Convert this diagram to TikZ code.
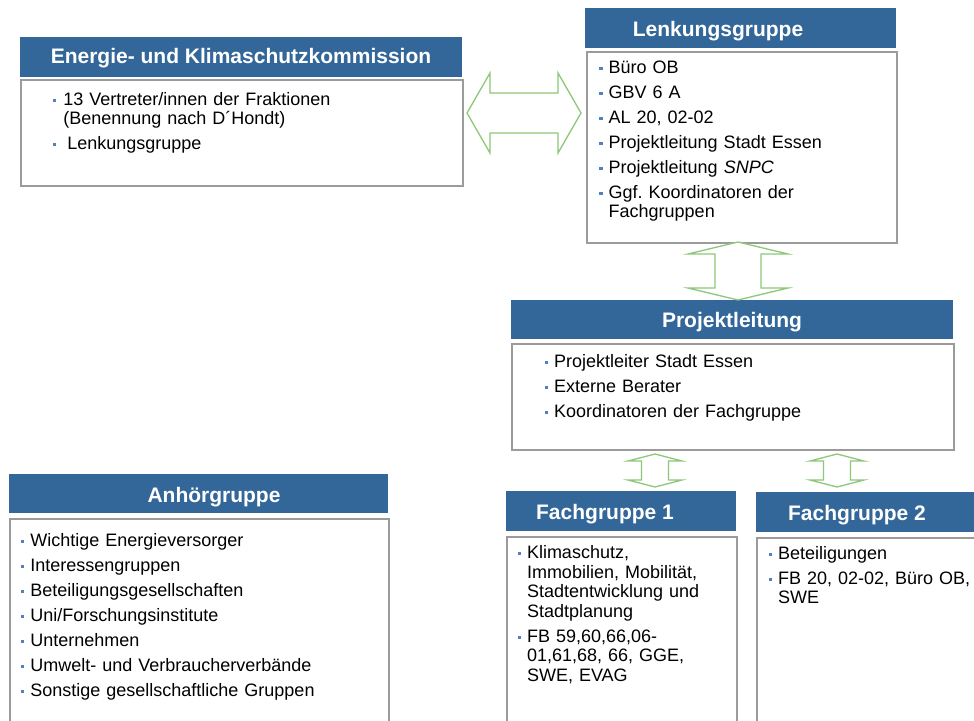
\documentclass[tikz,border=0pt]{standalone}
\usepackage{fontspec}
\setmainfont{Liberation Sans}
\usetikzlibrary{calc}
\frenchspacing
\definecolor{hdblue}{RGB}{52,103,153}
\definecolor{bulblue}{RGB}{79,129,189}
\definecolor{bordgrey}{RGB}{155,155,155}
\definecolor{arrgreen}{RGB}{140,200,120}
\newlength{\bw}
\setlength{\bw}{9.5pt}
\newcommand{\bsq}{\textcolor{bulblue}{\rule[3.3pt]{3.3pt}{3.3pt}}}
\newcommand{\itm}[1]{\par\noindent\hangindent=\bw\hangafter=1\makebox[\bw][l]{\bsq}\rule{0pt}{14pt}#1\par\vspace{5.5pt}}
\newcommand{\hdarrow}[5]{\draw[blockarr] ($(#1)+({-#2},0)$) -- ($(#1)+({-#2+#3},{-#4})$) -- ($(#1)+({-#2+#3},{-#5})$) -- ($(#1)+({#2-#3},{-#5})$) -- ($(#1)+({#2-#3},{-#4})$) -- ($(#1)+({#2},0)$) -- ($(#1)+({#2-#3},{#4})$) -- ($(#1)+({#2-#3},{#5})$) -- ($(#1)+({-#2+#3},{#5})$) -- ($(#1)+({-#2+#3},{#4})$) -- cycle;}
\newcommand{\vdarrow}[5]{\draw[blockarr] ($(#1)+(0,{-#2})$) -- ($(#1)+({-#4},{-#2+#3})$) -- ($(#1)+({-#5},{-#2+#3})$) -- ($(#1)+({-#5},{#2-#3})$) -- ($(#1)+({-#4},{#2-#3})$) -- ($(#1)+(0,{#2})$) -- ($(#1)+({#4},{#2-#3})$) -- ($(#1)+({#5},{#2-#3})$) -- ($(#1)+({#5},{-#2+#3})$) -- ($(#1)+({#4},{-#2+#3})$) -- cycle;}
\tikzset{
  hdr/.style={fill=hdblue, draw=none, anchor=north west, inner sep=0pt},
  bodybox/.style={draw=bordgrey, line width=1.5pt, fill=white, anchor=north west, inner sep=0pt},
  ttl/.style={text=white, font=\bfseries\fontsize{21}{25}\selectfont, anchor=base, inner sep=0pt},
  lst/.style={anchor=north west, inner sep=0pt, text width=#1, align=left, font=\fontsize{18}{19.5}\selectfont},
  blockarr/.style={draw=arrgreen, line width=1.3pt, fill=white, line join=miter},
}
\begin{document}
\begin{tikzpicture}[x=1pt,y=-1pt]
\useasboundingbox (0,0) rectangle (974,720);
\clip (0,0) rectangle (974,720);
\fill[white] (0,0) rectangle (974,720);

% Energie- und Klimaschutzkommission
\node[hdr, minimum width=442pt, minimum height=40pt] (ekhead) at (20,37) {};
\node[ttl] (ektitle) at (241,63) {Energie- und Klimaschutzkommission};
\node[bodybox, minimum width=442pt, minimum height=106pt] (ekbody) at (20,79) {};
\node[lst=400pt] (eklist) at (52.7,85.5) {\setlength{\bw}{10.5pt}%
\itm{13 Vertreter/innen der Fraktionen\newline (Benennung nach D´Hondt)}%
\itm{\hspace{4pt}Lenkungsgruppe}};

% Lenkungsgruppe
\node[hdr, minimum width=311pt, minimum height=40pt] (lghead) at (585,8) {};
\node[ttl] (lgtitle) at (718,36) {Lenkungsgruppe};
\node[bodybox, minimum width=310pt, minimum height=191pt] (lgbody) at (586,51) {};
\node[lst=290pt] (lglist) at (599,53.5) {%
\itm{Büro OB}%
\itm{GBV 6 A}%
\itm{AL 20, 02-02}%
\itm{Projektleitung Stadt Essen}%
\itm{Projektleitung \textit{SNPC}}%
\itm{Ggf. Koordinatoren der\newline Fachgruppen}};

% Projektleitung
\node[hdr, minimum width=442pt, minimum height=39pt] (plhead) at (511,300) {};
\node[ttl] (pltitle) at (732,327) {Projektleitung};
\node[bodybox, minimum width=442pt, minimum height=106pt] (plbody) at (511,343) {};
\node[lst=390pt] (pllist) at (544.3,348) {%
\itm{Projektleiter Stadt Essen}%
\itm{Externe Berater}%
\itm{Koordinatoren der Fachgruppe}};

% Anhoergruppe
\node[hdr, minimum width=379pt, minimum height=39pt] (ahhead) at (9,474) {};
\node[ttl] (ahtitle) at (214,502) {Anhörgruppe};
\node[bodybox, minimum width=379pt, minimum height=220pt] (ahbody) at (9,518) {};
\node[lst=360pt] (ahlist) at (20.7,526.5) {%
\itm{Wichtige Energieversorger}%
\itm{Interessengruppen}%
\itm{Beteiligungsgesellschaften}%
\itm{Uni/Forschungsinstitute}%
\itm{Unternehmen}%
\itm{Umwelt- und Verbraucherverbände}%
\itm{Sonstige gesellschaftliche Gruppen}};

% Fachgruppe 1
\node[hdr, minimum width=230pt, minimum height=40pt] (f1head) at (506,491) {};
\node[ttl] (f1title) at (605,519) {Fachgruppe 1};
\node[bodybox, minimum width=230pt, minimum height=200pt] (f1body) at (506,536) {};
\node[lst=215pt] (f1list) at (517.3,539) {%
\itm{Klimaschutz,\newline Immobilien, Mobilität,\newline Stadtentwicklung und\newline Stadtplanung}%
\itm{FB 59,60,66,06-\newline 01,61,68, 66, GGE,\newline SWE, EVAG}};

% Fachgruppe 2
\node[hdr, minimum width=230pt, minimum height=40pt] (f2head) at (756,492) {};
\node[ttl] (f2title) at (857,520) {Fachgruppe 2};
\node[bodybox, minimum width=230pt, minimum height=200pt] (f2body) at (756,537) {};
\node[lst=215pt] (f2list) at (768.3,539.5) {%
\itm{Beteiligungen}%
\itm{FB 20, 02-02, Büro OB,\newline SWE}};

% block double arrows
\coordinate (ha) at (524,113);
\coordinate (va) at (738,271);
\coordinate (vb) at (655,470.5);
\coordinate (vc) at (837,470.5);
\hdarrow{ha}{57}{23}{40}{20}
\vdarrow{va}{29}{12}{50}{23}
\vdarrow{vb}{16.5}{7}{27}{13.5}
\vdarrow{vc}{16.5}{7}{27}{13.5}
\end{tikzpicture}
\end{document}
